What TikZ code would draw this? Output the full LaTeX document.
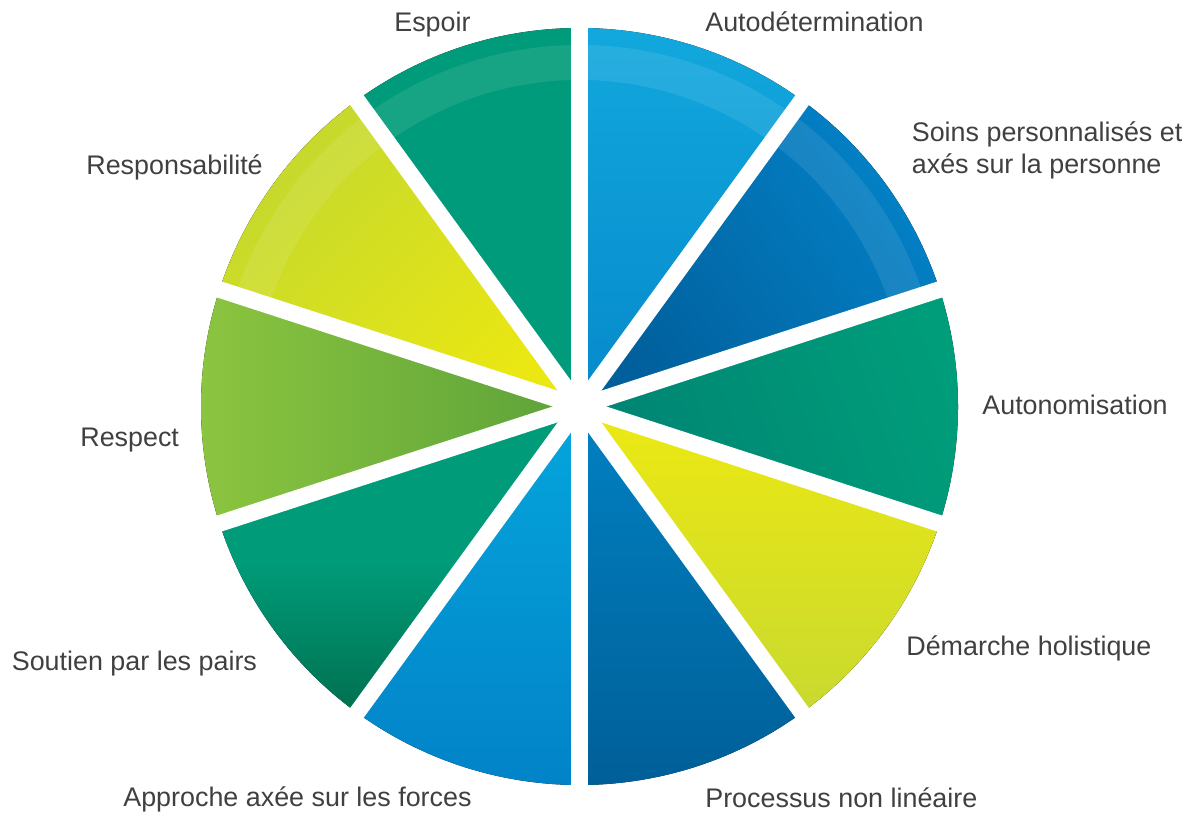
\documentclass[tikz,border=0pt]{standalone}
\usepackage{fontspec}
\setmainfont{Liberation Sans}
\usetikzlibrary{calc}

\definecolor{labelgray}{HTML}{404040}
\definecolor{autoTop}{HTML}{12A8DD}
\definecolor{autoBot}{HTML}{0689CB}
\definecolor{soinsOut}{HTML}{0382C7}
\definecolor{soinsIn}{HTML}{015F9C}
\definecolor{autonOut}{HTML}{009D7A}
\definecolor{autonIn}{HTML}{008473}
\definecolor{demTop}{HTML}{EDE912}
\definecolor{demBot}{HTML}{C8D92F}
\definecolor{procTop}{HTML}{0181C2}
\definecolor{procBot}{HTML}{005F98}
\definecolor{apprTop}{HTML}{05A6DC}
\definecolor{apprBot}{HTML}{0283C8}
\definecolor{soutTop}{HTML}{009C7A}
\definecolor{soutBot}{HTML}{00704F}
\definecolor{respOut}{HTML}{8CC53F}
\definecolor{respIn}{HTML}{5CA23A}
\definecolor{respoOut}{HTML}{C3D82E}
\definecolor{respoIn}{HTML}{EAE713}
\definecolor{espoirGreen}{HTML}{009B7A}

\begin{document}
\begin{tikzpicture}
                [gap/.style={white, line width=0.332cm},
                  gloss/.style={white, opacity=0.09},
                  label/.style={text=labelgray, font=\fontsize{15.3}{18}\selectfont,
                    inner sep=0pt, anchor=base west},
                ]
                \useasboundingbox (0,0) rectangle (23.82,16.42);
                \coordinate (c) at (11.59,8.29);
                % the ten slices
                \foreach \a/\ct/\cm/\cb/\sa in {
                  54/autoTop/autoTop!50!autoBot/autoBot/0,
                  18/soinsOut/soinsOut!50!soinsIn/soinsIn/-54,
                  -18/autonOut/autonOut!50!autonIn/autonIn/-70,
                  -54/demTop/demTop!50!demBot/demBot/0,
                  -90/procTop/procTop!50!procBot/procBot/0,
                  -126/apprTop/apprTop!50!apprBot/apprBot/0,
                  -162/soutTop/soutTop/soutBot/0,
                  162/respOut/respOut!50!respIn/respIn/90,
                  126/respoOut/respoOut!50!respoIn/respoIn/45,
                  90/espoirGreen/espoirGreen/espoirGreen/0}
                  \fill[top color=\ct, bottom color=\cb, middle color=\cm, shading angle=\sa]
                    (c) -- ++(\a:7.57) arc[start angle=\a, delta angle=36, radius=7.57] -- cycle;
                % light band near the rim
                \fill[gloss] ($(c)+(18:7.23)$) arc[start angle=18, end angle=162, radius=7.23]
                  -- ($(c)+(162:6.53)$) arc[start angle=162, end angle=18, radius=6.53] -- cycle;
                % white gaps
                \foreach \a in {90,54,18,-18,-54,-90,-126,-162,162,126}
                  \draw[gap] (c) -- ++(\a:7.9);
                % labels
                \node[label] (espoir) at (7.88,15.79) {Espoir};
                \node[label] (autodet) at (14.10,15.79) {Autodétermination};
                \node[label, align=left] (soins) at (18.23,12.95)
                  {Soins personnalisés et\\axés sur la personne};
                \node[label] (responsabilite) at (1.72,12.92) {Responsabilité};
                \node[label] (autonomisation) at (19.64,8.12) {Autonomisation};
                \node[label] (respect) at (1.60,7.49) {Respect};
                \node[label] (demarche) at (18.12,3.32) {Démarche holistique};
                \node[label] (soutien) at (0.23,3.02) {Soutien par les pairs};
                \node[label] (approche) at (2.46,0.30) {Approche axée sur les forces};
                \node[label] (processus) at (14.10,0.28) {Processus non linéaire};
\end{tikzpicture}
\end{document}
